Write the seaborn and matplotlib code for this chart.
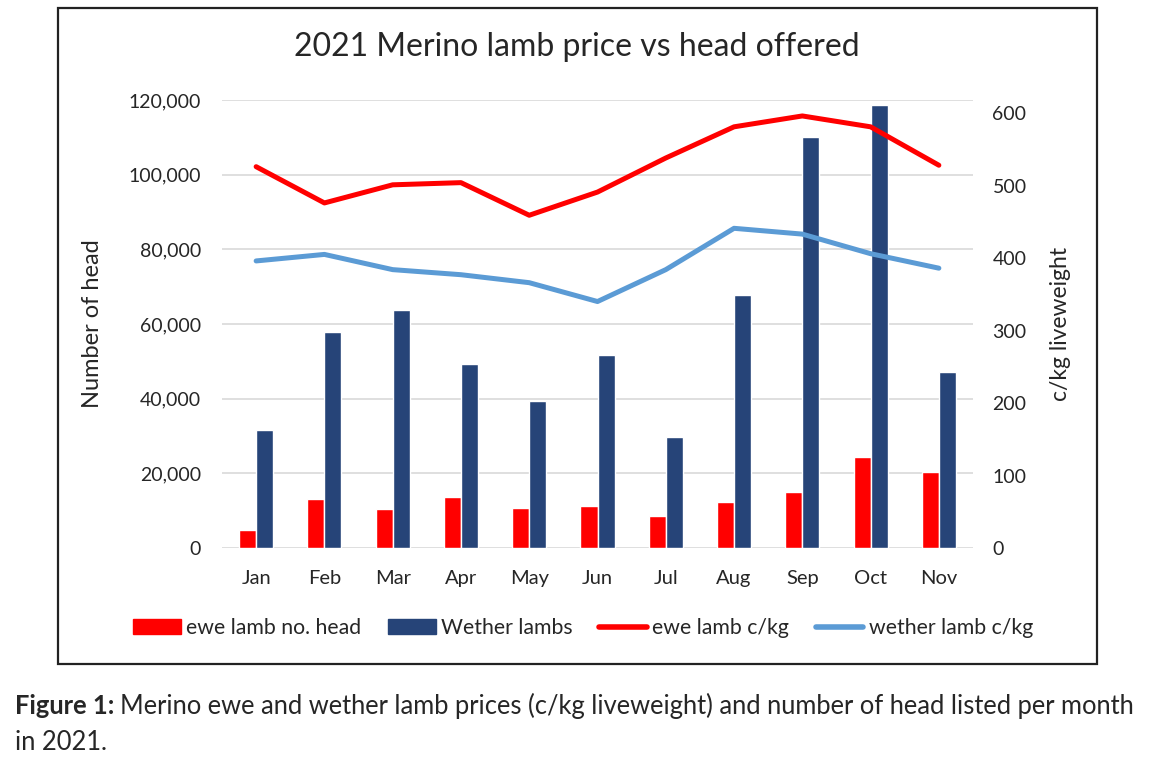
import numpy as np
import pandas as pd
import matplotlib
matplotlib.use('Agg')
import matplotlib.pyplot as plt
import matplotlib.patches as mpatches
from matplotlib.lines import Line2D
from matplotlib.ticker import FuncFormatter
import seaborn as sns

# Data
months = ['Jan', 'Feb', 'Mar', 'Apr', 'May', 'Jun', 'Jul', 'Aug', 'Sep', 'Oct', 'Nov']
ewe_head = [4800, 13100, 10500, 13700, 10700, 11300, 8600, 12300, 15000, 24400, 20400]
wether_head = [31600, 57800, 63800, 49300, 39400, 51700, 29700, 67800, 110100, 118700, 47100]
ewe_ckg = [526, 476, 501, 504, 459, 491, 538, 581, 596, 581, 528]
wether_ckg = [396, 405, 384, 377, 366, 340, 384, 441, 433, 406, 386]

bar_labels = ['ewe lamb no. head', 'Wether lambs']
line_labels = ['ewe lamb c/kg', 'wether lamb c/kg']
red = '#FF0000'
navy = '#264478'
light_blue = '#5B9BD5'

sns.set_style('white')
plt.rcParams['font.family'] = ['Lato', 'DejaVu Sans']

# long format for seaborn barplot
bars = pd.DataFrame({
    'Month': months * 2,
    'Head': ewe_head + wether_head,
    'Series': [bar_labels[0]] * len(months) + [bar_labels[1]] * len(months),
})

fig = plt.figure(figsize=(11.61, 7.62), dpi=100)
ax = fig.add_axes([222 / 1161, 1 - 548 / 762, 751 / 1161, 448 / 762])

sns.barplot(data=bars, x='Month', y='Head', hue='Series', order=months,
            hue_order=bar_labels, palette=[red, navy], width=0.5,
            saturation=1, ax=ax, legend=False)
ax.set_ylim(0, 120000)
ax.set_xlim(-0.5, len(months) - 0.5)
ax.set_yticks(np.arange(0, 120001, 20000))
ax.yaxis.set_major_formatter(FuncFormatter(lambda v, p: f'{int(v):,}'))
ax.grid(True, axis='y', color='#D9D9D9', linewidth=1.2)
ax.set_axisbelow(True)
ax.set_xlabel('')
ax.set_ylabel('Number of head', fontsize=17)
ax.yaxis.set_label_coords(-0.158, 0.5)
ax.tick_params(axis='y', length=0, pad=15, labelsize=14)
ax.tick_params(axis='x', length=0, pad=16, labelsize=14.5)
sns.despine(ax=ax, left=True, bottom=True)

# price lines on the secondary axis
ax2 = ax.twinx()
x = np.arange(len(months))
sns.lineplot(x=x, y=ewe_ckg, color=red, linewidth=3.6, ax=ax2)
sns.lineplot(x=x, y=wether_ckg, color=light_blue, linewidth=3.6, ax=ax2)
ax2.set_ylim(0, 618)
ax2.set_yticks(np.arange(0, 601, 100))
ax2.set_ylabel('c/kg liveweight', fontsize=16.5)
ax2.yaxis.set_label_coords(1.103, 0.5)
ax2.tick_params(axis='y', length=0, pad=14, labelsize=14)
for s in ax2.spines.values():
    s.set_visible(False)

fig.text(577 / 1161, 1 - 47 / 762, '2021 Merino lamb price vs head offered',
         ha='center', va='center', fontsize=23)

handles = [
    mpatches.Patch(color=red),
    mpatches.Patch(color=navy),
    Line2D([0], [0], color=red, linewidth=4, solid_capstyle='round'),
    Line2D([0], [0], color=light_blue, linewidth=4, solid_capstyle='round'),
]
fig.legend(handles, bar_labels + line_labels, loc='center',
           bbox_to_anchor=(583 / 1161, 1 - 628 / 762), ncol=4, frameon=False,
           fontsize=15.3, handlelength=2.25, handleheight=0.7,
           handletextpad=0.25, columnspacing=1.25)

# chart frame
fig.patches.append(mpatches.Rectangle((58 / 1161, 1 - 664 / 762), 1039 / 1161, 656 / 762,
                                      transform=fig.transFigure, fill=False,
                                      edgecolor='#222222', linewidth=1.6))

# caption: bold lead-in followed by regular text
cap_y = 1 - 706 / 762
lead = fig.text(15 / 1161, cap_y, 'Figure 1:', ha='left', va='center',
                fontsize=18.4, fontweight='bold')
fig.canvas.draw()
bb = lead.get_window_extent(renderer=fig.canvas.get_renderer())
fig.text((bb.x1 + 6) / 1161, cap_y,
         'Merino ewe and wether lamb prices (c/kg liveweight) and number of head listed per month',
         ha='left', va='center', fontsize=18.4)
fig.text(15 / 1161, 1 - 743 / 762, 'in 2021.', ha='left', va='center', fontsize=18.4)

fig.savefig('out.png', dpi=100)
